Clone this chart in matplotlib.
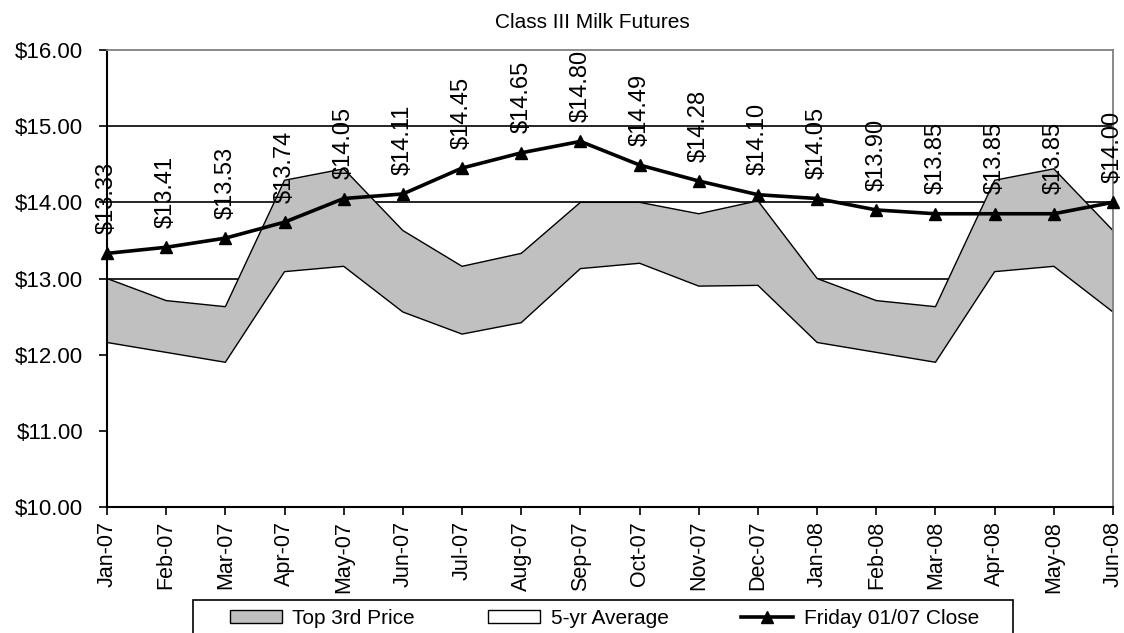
import matplotlib
matplotlib.use("Agg")
import matplotlib.pyplot as plt
from matplotlib.patches import Patch, Rectangle
from matplotlib.lines import Line2D
import numpy as np

plt.rcParams['font.family'] = ['Liberation Sans', 'DejaVu Sans']

# Contract months
months = ['Jan-07', 'Feb-07', 'Mar-07', 'Apr-07', 'May-07', 'Jun-07',
          'Jul-07', 'Aug-07', 'Sep-07', 'Oct-07', 'Nov-07', 'Dec-07',
          'Jan-08', 'Feb-08', 'Mar-08', 'Apr-08', 'May-08', 'Jun-08']

# Friday 01/07 settlement prices ($/cwt)
close_prices = [13.33, 13.41, 13.53, 13.74, 14.05, 14.11, 14.45, 14.65, 14.80,
                14.49, 14.28, 14.10, 14.05, 13.90, 13.85, 13.85, 13.85, 14.00]

# Top-third price band (upper edge)
top_third = [13.00, 12.71, 12.63, 14.29, 14.44, 13.63, 13.16, 13.33, 14.00,
             14.00, 13.85, 14.02, 13.00, 12.71, 12.63, 14.29, 14.44, 13.63]

# Five-year average price (lower edge)
five_yr_avg = [12.16, 12.03, 11.90, 13.09, 13.16, 12.56, 12.27, 12.42, 13.13,
               13.20, 12.90, 12.91, 12.16, 12.03, 11.90, 13.09, 13.16, 12.56]

y_ticks = [10, 11, 12, 13, 14, 15, 16]

W, H = 1124, 633
fig = plt.figure(figsize=(W / 100, H / 100), dpi=100)
fig.patch.set_facecolor('white')

left, right, top, bottom = 107, 1113, 50, 507
ax = fig.add_axes([left / W, 1 - bottom / H, (right - left) / W, (bottom - top) / H])

x = np.arange(len(months))
band_gray = '#C0C0C0'

# Gridlines sit behind the filled areas
for yv in y_ticks[1:-1]:
    ax.axhline(yv, color='black', lw=1.2, zorder=0.5)

# Stacked-looking areas: gray top-third area, white five-year area over it
ax.fill_between(x, 10, top_third, facecolor=band_gray, linewidth=0, zorder=1)
ax.plot(x, top_third, color='black', lw=1.0, zorder=1.1)
ax.fill_between(x, 10, five_yr_avg, facecolor='white', linewidth=0, zorder=1.5)
ax.plot(x, five_yr_avg, color='black', lw=1.0, zorder=1.6)

# Friday close line with triangle markers
ax.plot(x, close_prices, color='black', lw=2.6, marker='^', markersize=9,
        zorder=3, clip_on=False)

for xi, v in zip(x, close_prices):
    ax.annotate(f'${v:.2f}', (xi, v), xytext=(0, 14), textcoords='offset points',
                rotation=90, ha='center', va='bottom', fontsize=17,
                annotation_clip=False, zorder=4)

ax.set_xlim(0, len(months) - 1)
ax.set_ylim(10, 16)
ax.set_xticks(x)
ax.set_xticklabels(months, rotation=90, fontsize=15.5)
ax.set_yticks(y_ticks)
ax.set_yticklabels([f'${v:.2f}' for v in y_ticks], fontsize=16)
ax.tick_params(axis='x', direction='out', length=6, width=1.2, pad=4)
ax.tick_params(axis='y', direction='out', length=6, width=1.2, pad=11)

for side in ('left', 'bottom'):
    ax.spines[side].set_color('black')
    ax.spines[side].set_linewidth(1.5)
for side in ('top', 'right'):
    ax.spines[side].set_color('#808080')
    ax.spines[side].set_linewidth(1.3)
for s in ax.spines.values():
    s.set_zorder(2.5)

fig.text(592 / W, 1 - 22 / H, 'Class III Milk Futures', ha='center', va='center',
         fontsize=15)

handles = [
    Patch(facecolor=band_gray, edgecolor='black', linewidth=1.0),
    Patch(facecolor='white', edgecolor='black', linewidth=1.0),
    Line2D([0], [0], color='black', lw=2.6, marker='^', markersize=9),
]
labels = ['Top 3rd Price', '5-yr Average', 'Friday 01/07 Close']
fig.legend(handles, labels, loc='center left',
           bbox_to_anchor=(230 / W, 1 - 618 / H), bbox_transform=fig.transFigure,
           ncol=3, frameon=False, borderpad=0, borderaxespad=0,
           handlelength=2.5, handleheight=0.6, handletextpad=0.5,
           columnspacing=3.5, fontsize=15)
fig.add_artist(Rectangle((193 / W, -0.05), 820 / W, (1 - 600 / H) + 0.05,
                         transform=fig.transFigure, fill=False,
                         edgecolor='black', linewidth=1.2))

fig.savefig('out.png', dpi=100, facecolor='white')
